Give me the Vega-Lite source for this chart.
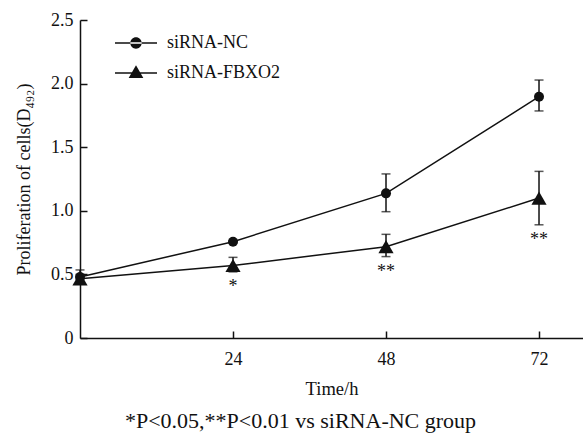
{
  "$schema": "https://vega.github.io/schema/vega-lite/v6.json",
  "width": 503,
  "height": 318,
  "autosize": "none",
  "padding": {"left": 80, "top": 20, "right": 0, "bottom": 96},
  "background": "white",
  "config": {
    "font": "Liberation Serif",
    "view": {"stroke": null},
    "axis": {
      "domainColor": "#111",
      "domainWidth": 1.5,
      "tickColor": "#111",
      "tickWidth": 1.5,
      "grid": false,
      "labelFont": "Liberation Serif",
      "labelFontSize": 18,
      "labelColor": "#111",
      "titleFont": "Liberation Serif",
      "titleFontSize": 18,
      "titleFontWeight": 400,
      "titleColor": "#111"
    },
    "legend": {
      "labelFont": "Liberation Serif",
      "labelFontSize": 18,
      "labelColor": "#111"
    }
  },
  "title": {
    "text": "*P<0.05,**P<0.01 vs siRNA-NC group",
    "orient": "bottom",
    "anchor": "middle",
    "dx": -31,
    "font": "Liberation Serif",
    "fontSize": 22,
    "fontWeight": "normal",
    "color": "#111",
    "offset": 13
  },
  "datasets": {
    "main": [
      {"group": "siRNA-NC", "time": 0, "mean": 0.48, "lo": 0.46, "hi": 0.50},
      {"group": "siRNA-NC", "time": 24, "mean": 0.757, "lo": 0.75, "hi": 0.765},
      {"group": "siRNA-NC", "time": 48, "mean": 1.137, "lo": 0.993, "hi": 1.29},
      {"group": "siRNA-NC", "time": 72, "mean": 1.897, "lo": 1.785, "hi": 2.028},
      {"group": "siRNA-FBXO2", "time": 0, "mean": 0.465, "lo": 0.44, "hi": 0.535},
      {"group": "siRNA-FBXO2", "time": 24, "mean": 0.57, "lo": 0.52, "hi": 0.634},
      {"group": "siRNA-FBXO2", "time": 48, "mean": 0.718, "lo": 0.64, "hi": 0.815},
      {"group": "siRNA-FBXO2", "time": 72, "mean": 1.10, "lo": 0.89, "hi": 1.31}
    ],
    "stars": [
      {"time": 24, "lo": 0.52, "label": "*"},
      {"time": 48, "lo": 0.64, "label": "**"},
      {"time": 72, "lo": 0.89, "label": "**"}
    ]
  },
  "encoding": {
    "x": {
      "field": "time",
      "type": "quantitative",
      "scale": {"domain": [0, 78.9], "nice": false, "zero": false},
      "axis": {
        "values": [24, 48, 72],
        "title": "Time/h",
        "titleFont": "Liberation Serif",
        "titleFontWeight": 400,
        "titleFontSize": 18.5,
        "tickSize": -7,
        "labelPadding": 19,
        "titlePadding": 11
      }
    }
  },
  "layer": [
    {
      "data": {"name": "main"},
      "mark": {"type": "rule", "color": "#111", "strokeWidth": 1.5},
      "encoding": {
        "y": {
          "field": "lo",
          "type": "quantitative",
          "scale": {"domain": [0, 2.5], "nice": false},
          "axis": {
            "values": [0, 0.5, 1, 1.5, 2, 2.5],
            "labelExpr": "datum.value == 0 ? '0' : format(datum.value, '.1f')",
            "title": "Proliferation of cells(D₄₉₂)",
            "titleFont": "Liberation Serif",
            "titleFontWeight": 400,
            "titleFontSize": 18,
            "tickSize": -7,
            "labelPadding": 14,
            "titlePadding": 17
          }
        },
        "y2": {"field": "hi"}
      }
    },
    {
      "data": {"name": "main"},
      "mark": {"type": "tick", "orient": "horizontal", "color": "#111", "size": 9, "thickness": 1.5},
      "encoding": {"y": {"field": "lo", "type": "quantitative"}}
    },
    {
      "data": {"name": "main"},
      "mark": {"type": "tick", "orient": "horizontal", "color": "#111", "size": 9, "thickness": 1.5},
      "encoding": {"y": {"field": "hi", "type": "quantitative"}}
    },
    {
      "data": {"name": "main"},
      "mark": {"type": "line", "color": "#111", "strokeWidth": 1.5},
      "encoding": {
        "y": {"field": "mean", "type": "quantitative"},
        "detail": {"field": "group", "type": "nominal"}
      }
    },
    {
      "data": {"name": "main"},
      "transform": [{"filter": "datum.group == 'siRNA-NC'"}],
      "mark": {"type": "point", "shape": "circle", "size": 100, "filled": true, "color": "#111", "opacity": 1},
      "encoding": {"y": {"field": "mean", "type": "quantitative"}}
    },
    {
      "data": {"name": "main"},
      "transform": [{"filter": "datum.group == 'siRNA-FBXO2'"}],
      "mark": {"type": "point", "shape": "triangle-up", "size": 230, "filled": true, "color": "#111", "opacity": 1},
      "encoding": {"y": {"field": "mean", "type": "quantitative"}}
    },
    {
      "data": {"name": "main"},
      "mark": {"type": "point", "filled": true, "color": "#111", "opacity": 0},
      "encoding": {
        "y": {"field": "mean", "type": "quantitative"},
        "shape": {
          "field": "group",
          "type": "nominal",
          "scale": {
            "domain": ["siRNA-NC", "siRNA-FBXO2"],
            "range": [
              "M-1,-0.036L1,-0.036L1,0.036L-1,0.036Z M-0.27,0A0.27,0.27 0 1,0 0.27,0A0.27,0.27 0 1,0 -0.27,0Z",
              "M-1,-0.036L1,-0.036L1,0.036L-1,0.036Z M0,-0.37L0.35,0.24L-0.35,0.24Z"
            ]
          },
          "legend": {
            "title": null,
            "orient": "none",
            "legendX": 35,
            "legendY": 2,
            "symbolSize": 1764,
            "symbolOpacity": 1,
            "symbolFillColor": "#111",
            "symbolStrokeColor": "#111",
            "symbolStrokeWidth": 0,
            "labelFont": "Liberation Serif",
            "labelFontSize": 18,
            "labelColor": "#111",
            "labelOffset": 10,
            "rowPadding": -9,
            "encode": {
              "symbols": {
                "update": {
                  "opacity": {"value": 1},
                  "fill": {"value": "#111"},
                  "fillOpacity": {"value": 1}
                }
              }
            }
          }
        }
      }
    },
    {
      "data": {"name": "stars"},
      "mark": {"type": "text", "baseline": "top", "dy": 6, "fontSize": 18, "font": "Liberation Serif", "color": "#111"},
      "encoding": {
        "y": {"field": "lo", "type": "quantitative"},
        "text": {"field": "label", "type": "nominal"}
      }
    }
  ]
}
